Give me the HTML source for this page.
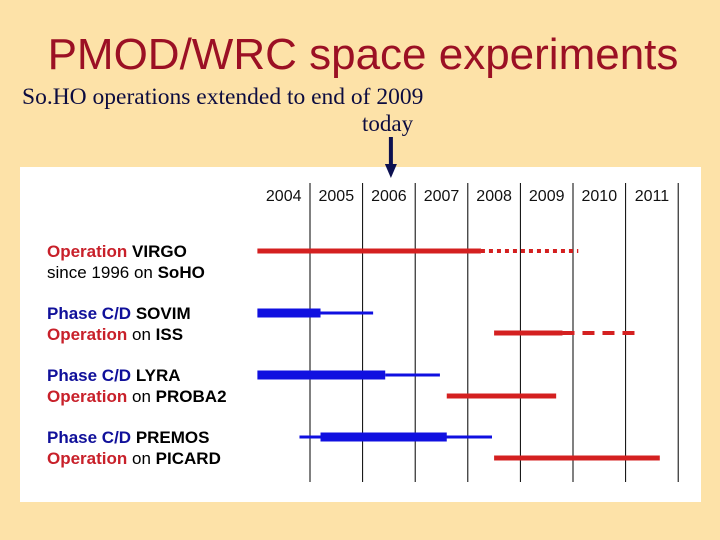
<!DOCTYPE html>
<html><head><meta charset="utf-8">
<style>
body{margin:0;width:720px;height:540px;background:#fde2a8;position:relative;overflow:hidden;font-family:"Liberation Sans",sans-serif}
.t{position:absolute;white-space:nowrap}
#title{left:0;width:726px;text-align:center;top:30px;font-size:44px;color:#9b1024}
#sub{left:22px;top:84px;font-family:"Liberation Serif",serif;font-size:23.5px;color:#0c0c40}
#today{left:362px;top:111px;font-family:"Liberation Serif",serif;font-size:23px;color:#0c0c40}
#panel{position:absolute;left:20px;top:167px;width:681px;height:335px;background:#fff}
.lab{position:absolute;left:47px;font-size:17px;font-weight:bold;line-height:21px;color:#000}
.r{color:#c8202a}.b{color:#10109a}.n{font-weight:normal}
svg{position:absolute;left:0;top:0}
</style></head><body>
<div class="t" id="title">PMOD/WRC space experiments</div>
<div class="t" id="sub">So.HO operations extended to end of 2009</div>
<div class="t" id="today">today</div>
<div id="panel"></div>
<div class="lab" style="top:241px"><span class="r">Operation</span> VIRGO<br><span class="n">since 1996 on</span> SoHO</div>
<div class="lab" style="top:303px"><span class="b">Phase C/D</span> SOVIM<br><span class="r">Operation</span> <span class="n">on</span> ISS</div>
<div class="lab" style="top:365px"><span class="b">Phase C/D</span> LYRA<br><span class="r">Operation</span> <span class="n">on</span> PROBA2</div>
<div class="lab" style="top:427px"><span class="b">Phase C/D</span> PREMOS<br><span class="r">Operation</span> <span class="n">on</span> PICARD</div>
<svg id="chart" width="720" height="540"></svg>
<script>
const years=[2004,2005,2006,2007,2008,2009,2010,2011];
const barStart=[2004.0,2008.25,2004.0,2005.2,2008.5,2009.8,2004.0,2006.43,2007.6,2004.8,2005.2,2008.5];
const barEnd=[2008.25,2010.1,2005.2,2006.2,2009.8,2011.3,2006.43,2007.47,2009.68,2008.46,2007.6,2011.65];
const barRow=[0,0,1,1,2,2,3,3,4,5,5,6];
const barKind=["red","dot","blueT","blue","red","dash","blueT","blue","red","blue","blueT","red"];
const todayYear=2006.5;
const svg=document.getElementById('chart');
const NS='http://www.w3.org/2000/svg';
function xOf(y){return 310+(y-2005)*52.6;}
function yOf(r){return [251,313,333,375,396,437,458][r];}
function mk(tag,at){const e=document.createElementNS(NS,tag);for(const k in at)e.setAttribute(k,at[k]);svg.appendChild(e);return e;}
years.forEach((yr,i)=>{
  if(i>0){const l=mk('line',{x1:xOf(yr),x2:xOf(yr),y1:183,y2:482,stroke:'#000','stroke-width':1});
  
  }
  const t=mk('text',{x:xOf(yr+0.5),y:201,'text-anchor':'middle','font-size':16,fill:'#111','font-family':'Liberation Sans, sans-serif'});
  t.textContent=yr;
  
  
});
const last=mk('line',{x1:xOf(2012),x2:xOf(2012),y1:183,y2:482,stroke:'#000','stroke-width':1});


const sty={red:['#d42020',5,''],dot:['#d42020',4,'4 4'],dash:['#d42020',4,'12 8'],blueT:['#1010e0',9,''],blue:['#1010e0',3,'']};
const order=barStart.map((_,i)=>i).sort((a,b)=>(barKind[a]==='blueT')-(barKind[b]==='blueT'));
order.forEach(i=>{
  const s=sty[barKind[i]];
  const l=mk('line',{x1:xOf(barStart[i]),x2:xOf(barEnd[i]),y1:yOf(barRow[i]),y2:yOf(barRow[i]),stroke:s[0],'stroke-width':s[1]});
  if(s[2])l.setAttribute('stroke-dasharray',s[2]);
  
  
});
const ax=xOf(todayYear)+2;
const a1=mk('line',{x1:ax,x2:ax,y1:137,y2:166,stroke:'#0c1050','stroke-width':4});


const a2=mk('polygon',{points:`${ax-6},164 ${ax+6},164 ${ax},178`,fill:'#0c1050'});


</script>
</body></html>
